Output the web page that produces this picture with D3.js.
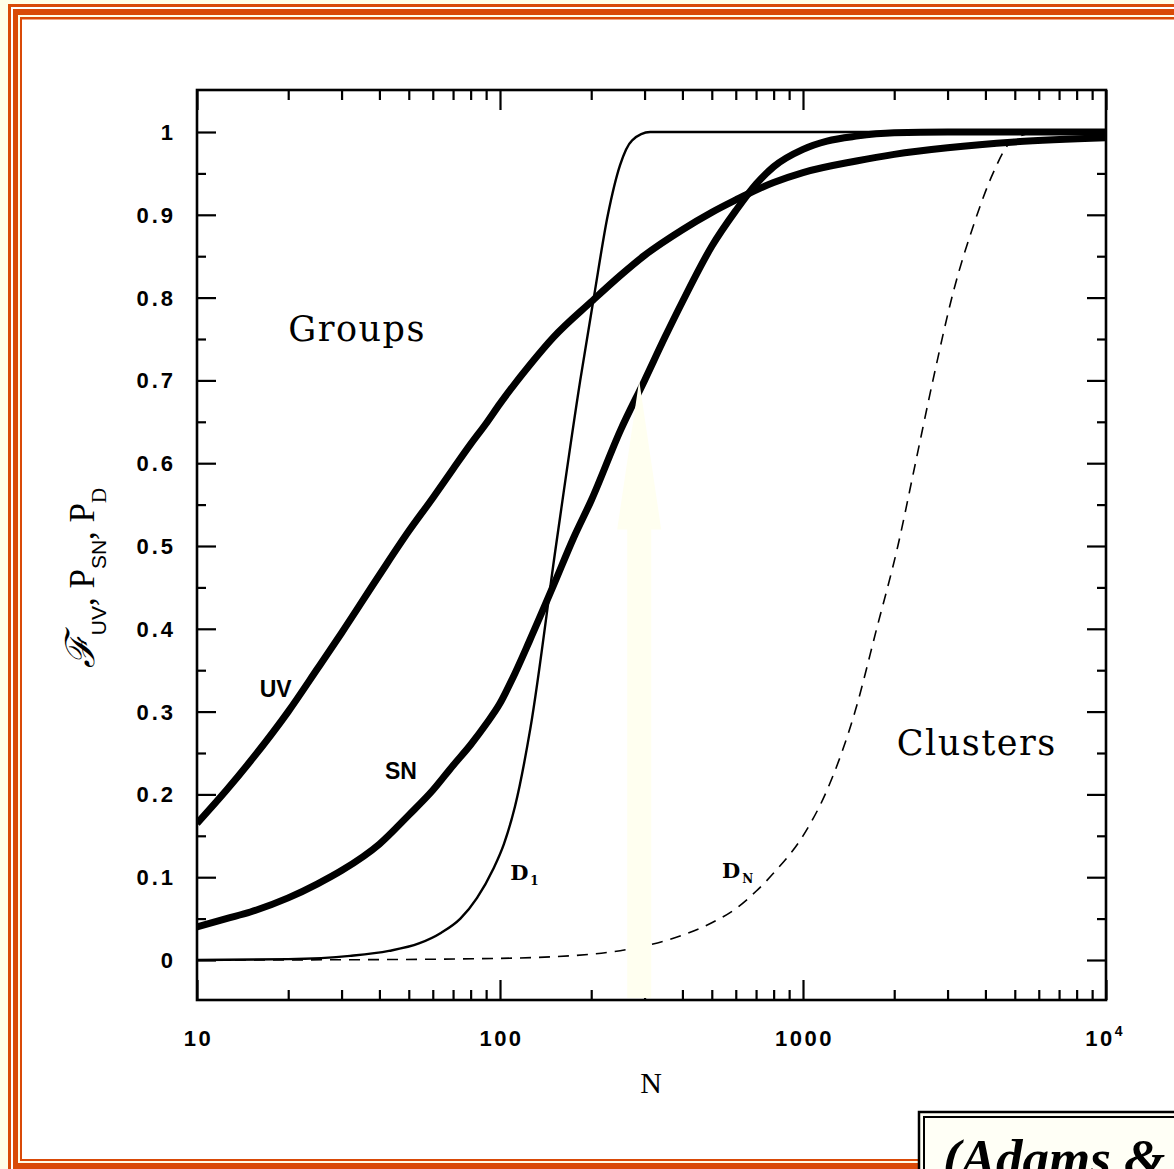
<!DOCTYPE html>
<html>
<head>
<meta charset="utf-8">
<script src="https://cdn.jsdelivr.net/npm/d3@7/dist/d3.min.js"></script>
<style>
  html, body { margin: 0; padding: 0; background: #fffee8; }
  svg { display: block; }
</style>
</head>
<body>
<script>
// UV flux fraction F_UV versus cluster membership N
const uvN      = [10, 12.5, 15, 20, 25, 30, 40, 50, 60, 70, 80, 90, 100, 125, 150, 200, 250, 300, 400, 500, 600, 700, 800, 1000, 1500, 2000, 3000, 5000, 10000];
const uvValues = [0.165, 0.205, 0.24, 0.30, 0.352, 0.395, 0.465, 0.518, 0.558, 0.593, 0.623, 0.648, 0.672, 0.718, 0.752, 0.795, 0.827, 0.851, 0.882, 0.903, 0.918, 0.93, 0.939, 0.951, 0.965, 0.973, 0.981, 0.988, 0.993];

// Supernova probability P_SN
const snN      = [10, 12.5, 15, 20, 25, 30, 40, 50, 60, 70, 80, 90, 100, 110, 125, 150, 175, 200, 250, 300, 350, 400, 500, 600, 700, 800, 1000, 1200, 1500, 2000, 3000, 10000];
const snValues = [0.04, 0.05, 0.058, 0.075, 0.092, 0.108, 0.14, 0.175, 0.205, 0.235, 0.26, 0.285, 0.31, 0.34, 0.385, 0.452, 0.51, 0.555, 0.64, 0.70, 0.752, 0.795, 0.862, 0.905, 0.937, 0.958, 0.979, 0.989, 0.995, 0.999, 1.0, 1.0];

// Disruption probability for a single encounter, D_1
const d1N      = [10, 20, 32, 43, 54, 64, 74, 84, 95, 103, 112, 126, 153, 184, 204, 227, 249, 273, 313, 400, 10000];
const d1Values = [0.0, 0.001, 0.005, 0.011, 0.02, 0.033, 0.05, 0.075, 0.11, 0.14, 0.185, 0.28, 0.5, 0.7, 0.8, 0.9, 0.96, 0.99, 1.0, 1.0, 1.0];

// Disruption probability over the full cluster, D_N
const dnN      = [10, 30, 100, 200, 300, 400, 500, 600, 700, 800, 1000, 1200, 1485, 1750, 2056, 2350, 2684, 3150, 3636, 4236, 4820, 5610, 10000];
const dnValues = [0.0, 0.0003, 0.002, 0.007, 0.017, 0.03, 0.045, 0.062, 0.083, 0.105, 0.15, 0.205, 0.3, 0.4, 0.5, 0.6, 0.7, 0.81, 0.885, 0.95, 0.987, 0.998, 1.0];

// Axis ticks and labels
const xMajorTicks = [10, 100, 1000, 10000];
const xTickLabels = ["10", "100", "1000", "10^4"];
const yMajorTicks = [0, 0.1, 0.2, 0.3, 0.4, 0.5, 0.6, 0.7, 0.8, 0.9, 1];
const yTickLabels = ["0", "0.1", "0.2", "0.3", "0.4", "0.5", "0.6", "0.7", "0.8", "0.9", "1"];
const yMinorTicks = [0.05, 0.15, 0.25, 0.35, 0.45, 0.55, 0.65, 0.75, 0.85, 0.95];

(function draw() {
const W = 1174, H = 1169;
const svg = d3.select("body").append("svg").attr("width", W).attr("height", H);

// ---- decorative page frame ----
const ORANGE = "#d94a08", CREAM = "#fffee8";
svg.append("rect").attr("x", 0).attr("y", 0).attr("width", W).attr("height", H).attr("fill", CREAM);
[
  { x: 8, y: 4, b: 1400, c: ORANGE },
  { x: 11, y: 7, b: 1400, c: "#ffffff" },
  { x: 13, y: 9, b: 1400, c: ORANGE },
  { x: 18, y: 15, b: 1163, c: CREAM },
  { x: 20, y: 17, b: 1161, c: ORANGE },
  { x: 22, y: 19.5, b: 1159, c: "#ffffff" }
].forEach(f => {
  svg.append("rect").attr("x", f.x).attr("y", f.y)
    .attr("width", 1400).attr("height", f.b - f.y).attr("fill", f.c);
});

// ---- plot area ----
const pLeft = 197, pRight = 1106, pTop = 90, pBottom = 1000;
const x = d3.scaleLog().domain([10, 10000]).range([pLeft, pRight]);
const y = d3.scaleLinear().domain([0, 1]).range([960, 132]);

const xMinor = [];
for (let d = 10; d < 10000; d *= 10) for (let k = 2; k <= 9; k++) xMinor.push(d * k);

const g = svg.append("g");
const axisStyle = sel => {
  sel.select(".domain").remove();
  sel.selectAll(".tick line").attr("stroke", "#000").attr("stroke-width", 2.2);
  sel.selectAll(".tick text").remove();
};
// bottom
g.append("g").attr("transform", `translate(0,${pBottom})`)
  .call(d3.axisBottom(x).tickValues(xMajorTicks).tickSize(-20)).call(axisStyle);
g.append("g").attr("transform", `translate(0,${pBottom})`)
  .call(d3.axisBottom(x).tickValues(xMinor).tickSize(-10)).call(axisStyle);
// top
g.append("g").attr("transform", `translate(0,${pTop})`)
  .call(d3.axisTop(x).tickValues(xMajorTicks).tickSize(-20)).call(axisStyle);
g.append("g").attr("transform", `translate(0,${pTop})`)
  .call(d3.axisTop(x).tickValues(xMinor).tickSize(-10)).call(axisStyle);
// left
g.append("g").attr("transform", `translate(${pLeft},0)`)
  .call(d3.axisLeft(y).tickValues(yMajorTicks).tickSize(-19)).call(axisStyle);
g.append("g").attr("transform", `translate(${pLeft},0)`)
  .call(d3.axisLeft(y).tickValues(yMinorTicks).tickSize(-9)).call(axisStyle);
// right
g.append("g").attr("transform", `translate(${pRight},0)`)
  .call(d3.axisRight(y).tickValues(yMajorTicks).tickSize(-19)).call(axisStyle);
g.append("g").attr("transform", `translate(${pRight},0)`)
  .call(d3.axisRight(y).tickValues(yMinorTicks).tickSize(-9)).call(axisStyle);

// tick labels
const tickFont = "'Liberation Sans', Arial, sans-serif";
const yl = svg.append("g").attr("font-family", tickFont).attr("font-size", 22)
  .attr("font-weight", "bold").attr("letter-spacing", 3).attr("fill", "#000");
yMajorTicks.forEach((v, i) => {
  yl.append("text").attr("x", 176).attr("y", y(v) + 8).attr("text-anchor", "end").text(yTickLabels[i]);
});
const xl = svg.append("g").attr("font-family", tickFont).attr("font-size", 22)
  .attr("font-weight", "bold").attr("letter-spacing", 2.5).attr("fill", "#000");
xMajorTicks.forEach((v, i) => {
  const lab = xTickLabels[i];
  if (lab.includes("^")) {
    const [base, exp] = lab.split("^");
    const t = xl.append("text").attr("x", x(v) - 2).attr("y", 1046).attr("text-anchor", "middle");
    t.append("tspan").text(base);
    t.append("tspan").attr("dy", -10).attr("font-size", 14).attr("letter-spacing", 0).text(exp);
  } else {
    xl.append("text").attr("x", x(v) + 1.5).attr("y", 1046).attr("text-anchor", "middle").text(lab);
  }
});

// ---- curves ----
svg.append("defs").append("clipPath").attr("id", "plotclip")
  .append("rect").attr("x", pLeft).attr("y", pTop).attr("width", pRight - pLeft).attr("height", pBottom - pTop);

const series = [
  { n: dnN, vals: dnValues, w: 1.6, dash: "11,8" },
  { n: d1N, vals: d1Values, w: 2.4, dash: null },
  { n: snN, vals: snValues, w: 7, dash: null },
  { n: uvN, vals: uvValues, w: 7, dash: null }
];
const line = d3.line().x(d => x(d[0])).y(d => y(d[1])).curve(d3.curveMonotoneX);
const cg = svg.append("g").attr("clip-path", "url(#plotclip)");
series.forEach(s => {
  cg.append("path").datum(s.n.map((n, i) => [n, s.vals[i]]))
    .attr("d", line).attr("fill", "none").attr("stroke", "#000")
    .attr("stroke-width", s.w).attr("stroke-dasharray", s.dash)
    .attr("stroke-linejoin", "round");
});

// faint upward arrow marking the transition scale
const ax = x(288);
const arrow = d3.path();
arrow.moveTo(ax - 12, pBottom - 2);
arrow.lineTo(ax - 12, y(0.52));
arrow.lineTo(ax - 22, y(0.52));
arrow.lineTo(ax, y(0.70));
arrow.lineTo(ax + 22, y(0.52));
arrow.lineTo(ax + 12, y(0.52));
arrow.lineTo(ax + 12, pBottom - 2);
arrow.closePath();
svg.append("path").attr("d", arrow.toString()).attr("fill", "#fffff0");

// plot frame
svg.append("rect").attr("x", pLeft).attr("y", pTop).attr("width", pRight - pLeft).attr("height", pBottom - pTop)
  .attr("fill", "none").attr("stroke", "#000").attr("stroke-width", 2.6);

// ---- annotations ----
const serif = "'DejaVu Serif', serif";
svg.append("text").attr("x", x(20)).attr("y", y(0.748)).attr("font-family", serif)
  .attr("font-size", 35).attr("letter-spacing", 1.5).attr("fill", "#000").text("Groups");
svg.append("text").attr("x", x(2040)).attr("y", y(0.248)).attr("font-family", serif)
  .attr("font-size", 35).attr("letter-spacing", 1.5).attr("fill", "#000").text("Clusters");

svg.append("text").attr("x", x(16.1)).attr("y", y(0.318)).attr("font-family", tickFont)
  .attr("font-size", 23).attr("font-weight", "bold").attr("fill", "#000").text("UV");
svg.append("text").attr("x", x(41.7)).attr("y", y(0.219)).attr("font-family", tickFont)
  .attr("font-size", 23).attr("font-weight", "bold").attr("fill", "#000").text("SN");

const dLab = (n, v, sub) => {
  const t = svg.append("text").attr("x", x(n)).attr("y", y(v)).attr("font-family", serif)
    .attr("font-size", 21).attr("font-weight", "bold").attr("fill", "#000");
  t.append("tspan").text("D");
  t.append("tspan").attr("dx", 2).attr("dy", 5).attr("font-size", 12).text(sub);
};
dLab(108, 0.097, "1");
dLab(540, 0.099, "N");

// axis titles
svg.append("text").attr("x", 651).attr("y", 1093).attr("text-anchor", "middle")
  .attr("font-family", "'Liberation Serif', 'Times New Roman', serif").attr("font-size", 30)
  .attr("fill", "#000").text("N");

const yt = svg.append("text").attr("transform", "translate(94,578) rotate(-90)")
  .attr("text-anchor", "middle").attr("font-family", "'Liberation Serif', 'Times New Roman', serif")
  .attr("font-size", 35).attr("fill", "#000");
yt.append("tspan").attr("font-family", "'DejaVu Serif', serif").attr("font-style", "italic")
  .attr("font-size", 40).text("ℱ");
yt.append("tspan").attr("dy", 12).attr("font-size", 21).attr("font-family", tickFont).text("UV");
yt.append("tspan").attr("dy", -12).text(", P");
yt.append("tspan").attr("dy", 12).attr("font-size", 21).attr("font-family", tickFont).text("SN");
yt.append("tspan").attr("dy", -12).text(", P");
yt.append("tspan").attr("dy", 12).attr("font-size", 21).text("D");

// ---- citation box (bottom right) ----
svg.append("rect").attr("x", 919).attr("y", 1112).attr("width", 400).attr("height", 200)
  .attr("fill", "#fffff6").attr("stroke", "#000").attr("stroke-width", 2.5);
svg.append("rect").attr("x", 924).attr("y", 1117).attr("width", 400).attr("height", 200)
  .attr("fill", "#fffff6").attr("stroke", "#000").attr("stroke-width", 2);
svg.append("text").attr("x", 943).attr("y", 1176)
  .attr("font-family", "'Liberation Serif', 'Times New Roman', serif")
  .attr("font-weight", "bold").attr("font-style", "italic").attr("font-size", 53)
  .attr("fill", "#000").text("(Adams &");
})();
</script>
</body>
</html>
